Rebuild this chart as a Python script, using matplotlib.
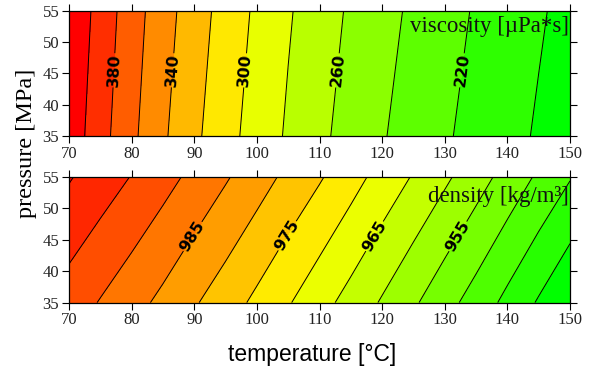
# contour plots of viscosity and density vs temperature and pressure
import numpy as np
import matplotlib
matplotlib.use('Agg')
import matplotlib.pyplot as plt
from matplotlib.colors import hsv_to_rgb

# ---------------- data ----------------
temperature = [70, 75, 80, 85, 90, 95, 100, 105, 110, 115, 120, 125, 130, 135, 140, 145, 150]
pressure = [35, 55]

# viscosity [uPa*s] at 35 MPa and at 55 MPa
viscosity_35 = [412.5, 387.5, 364.4, 343.0, 324.1, 307.0, 291.6, 277.4, 264.2,
                252.5, 241.5, 231.8, 222.3, 213.9, 205.8, 197.9, 190.7]
viscosity_55 = [417.5, 392.5, 369.1, 348.4, 329.5, 312.3, 296.5, 282.0, 269.3,
                257.2, 246.6, 236.5, 227.2, 218.2, 210.2, 202.1, 194.5]

# density [kg/m3] at 35 MPa and at 55 MPa
density_35 = [992.6, 989.7, 986.8, 983.8, 980.5, 977.3, 973.9, 970.4, 966.8,
              963.2, 959.5, 955.7, 951.8, 947.9, 943.7, 939.5, 935.3]
density_55 = [1000.4, 997.6, 994.8, 991.8, 988.7, 985.5, 982.2, 978.8, 975.5,
              971.9, 968.2, 964.6, 960.9, 957.1, 953.2, 949.2, 945.3]

viscosity_levels = [200, 220, 240, 260, 280, 300, 320, 340, 360, 380, 400]
viscosity_labels = [220, 260, 300, 340, 380]
density_levels = [940, 945, 950, 955, 960, 965, 970, 975, 980, 985, 990, 995, 1000]
density_labels = [955, 965, 975, 985]

temperature_ticks = [70, 80, 90, 100, 110, 120, 130, 140, 150]
pressure_ticks = [35, 40, 45, 50, 55]

SERIF = 'Liberation Serif'
NARROW = ['DejaVu Sans Condensed', 'DejaVu Sans']


def band_colors(n):
    # red (high) -> yellow -> green (low), one colour per band
    hues = np.linspace(1 / 3, 0, n)
    return [hsv_to_rgb((h, 1, 1)) for h in hues]


def draw_panel(ax, z, levels, label_levels, label_pos, title, title_y):
    T, P = np.meshgrid(temperature, pressure)
    fill_levels = [z.min() - 1] + levels + [z.max() + 1]
    ax.contourf(T, P, z, levels=fill_levels, colors=band_colors(len(fill_levels) - 1))

    # plain lines, then the labelled ones as their own set (clabel manual needs that)
    plain = [v for v in levels if v not in label_levels]
    ax.contour(T, P, z, levels=plain, colors='black', linewidths=0.7)
    cs = ax.contour(T, P, z, levels=label_levels, colors='black', linewidths=0.7)
    texts = ax.clabel(cs, manual=label_pos, inline=True,
                      fontsize=11.5, fmt='%d', inline_spacing=2)
    for t in texts:
        t.set_fontweight('bold')
        t.set_family(NARROW)

    ax.set_xlim(70, 150)
    ax.set_ylim(35, 55)
    ax.set_xticks(temperature_ticks)
    ax.set_yticks(pressure_ticks)
    ax.tick_params(direction='out', length=5, width=0.8, labelsize=12,
                   top=True, right=True, pad=2, labelcolor='#222222')
    for lab in ax.get_xticklabels() + ax.get_yticklabels():
        lab.set_family(SERIF)
    for s in ax.spines.values():
        s.set_linewidth(0.9)

    ax.text(0.997, title_y, title, transform=ax.transAxes, ha='right', va='baseline',
            family=SERIF, fontsize=16.5, color='#111111')


fig = plt.figure(figsize=(5.95, 3.69), dpi=100)
ax1 = fig.add_axes([0.116, 0.631, 0.842, 0.340])
ax2 = fig.add_axes([0.116, 0.180, 0.842, 0.340])

draw_panel(ax1, np.array([viscosity_35, viscosity_55]), viscosity_levels, viscosity_labels,
           [(132.7, 45.5), (112.7, 45.5), (98, 45.5), (86.5, 45.5), (77, 45.5)],
           'viscosity [\u00b5Pa*s]', 0.83)
draw_panel(ax2, np.array([density_35, density_55]), density_levels, density_labels,
           [(132.2, 45.5), (118.9, 45.5), (105.1, 45.5), (89.8, 45.5)],
           'density [kg/m\u00b3]', 0.805)

# shared axis labels
fig.text(0.045, 1 - 143 / 369, 'pressure [MPa]', rotation=90, ha='center', va='center',
         family=SERIF, fontsize=17.5)
fig.text(0.525, 1 - 361 / 369, 'temperature [\u00b0C]', ha='center', va='baseline',
         family='Liberation Sans', fontsize=16.5)

# caption, cut off by the bottom edge
fig.text(0.005, -0.05, 'Figure 5: Dependency of viscosity and density on temperature and pressure',
         ha='left', va='baseline', family=SERIF, style='italic', fontsize=17, color='#888888')

fig.savefig('out.png', dpi=100)
